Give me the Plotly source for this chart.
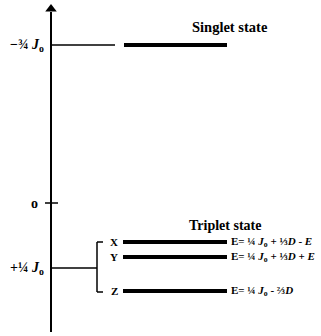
import plotly.graph_objects as go

# Energy-level diagram (schematic vertical positions, top = higher energy)
W, H = 321, 336

axis_x = 51
axis_top, axis_bottom = 12, 332

# Reference marks on the energy axis
tick_labels = ["−¾ <i>J</i><sub>o</sub>", "o", "+¼ <i>J</i><sub>o</sub>"]
tick_y = [45, 203, 268]

# Singlet level
singlet_y = 45
singlet_x = [124, 227]

# Triplet sublevels
triplet_names = ["X", "Y", "Z"]
triplet_y = [242, 257, 291]
triplet_x = [123, 227]
triplet_energy = [
    "E= ¼ <i>J</i><sub>o</sub> + ⅓<i>D</i> - <i>E</i>",
    "E= ¼ <i>J</i><sub>o</sub> + ⅓<i>D</i> + <i>E</i>",
    "E= ¼ <i>J</i><sub>o</sub> - ⅔<i>D</i>",
]

FONT = "Liberation Serif"
fig = go.Figure()

def seg(x0, y0, x1, y1, w):
    fig.add_trace(go.Scatter(x=[x0, x1], y=[y0, y1], mode="lines",
                             line=dict(color="black", width=w),
                             hoverinfo="skip", showlegend=False))

# vertical energy axis with arrow head
seg(axis_x, axis_top, axis_x, axis_bottom, 2)
fig.add_trace(go.Scatter(x=[axis_x], y=[axis_top - 3], mode="markers",
                         marker=dict(symbol="triangle-up", size=10, color="black"),
                         hoverinfo="skip", showlegend=False))

# connectors from the axis
seg(axis_x, tick_y[0], 115, tick_y[0], 1.5)
seg(45, tick_y[1], 58, tick_y[1], 1.5)
seg(axis_x, tick_y[2], 97, tick_y[2], 1.5)

# bracket grouping the triplet sublevels
seg(97, triplet_y[0], 97, triplet_y[-1] + 1, 1.5)
seg(97, triplet_y[0], 103, triplet_y[0], 1.5)
seg(97, triplet_y[-1] + 1, 103, triplet_y[-1] + 1, 1.5)

# energy levels
seg(singlet_x[0], singlet_y, singlet_x[1], singlet_y, 4)
for name, y, lab in zip(triplet_names, triplet_y, triplet_energy):
    seg(triplet_x[0], y, triplet_x[1], y, 4)
    fig.add_annotation(x=120, y=y, text=f"<b>{name}</b>", showarrow=False,
                       xanchor="right", yanchor="middle",
                       font=dict(family=FONT, size=11, color="black"))
    fig.add_annotation(x=229, y=y, text=f"<b>{lab}</b>", showarrow=False,
                       xanchor="left", yanchor="middle",
                       font=dict(family=FONT, size=11, color="black"))

# axis labels
for lab, y in zip(tick_labels, tick_y):
    fig.add_annotation(x=axis_x - 5 if lab != "o" else 40, y=y, text=f"<b>{lab}</b>",
                       showarrow=False, xanchor="right", yanchor="middle",
                       font=dict(family=FONT, size=14, color="black"))

# state titles
fig.add_annotation(x=230, y=27, text="<b>Singlet state</b>", showarrow=False,
                   xanchor="center", yanchor="middle",
                   font=dict(family=FONT, size=14.5, color="black"))
fig.add_annotation(x=225, y=225, text="<b>Triplet state</b>", showarrow=False,
                   xanchor="center", yanchor="middle",
                   font=dict(family=FONT, size=14, color="black"))

fig.update_layout(
    width=W, height=H,
    margin=dict(l=0, r=0, t=0, b=0),
    paper_bgcolor="white", plot_bgcolor="white",
    xaxis=dict(range=[0, W], visible=False, fixedrange=True),
    yaxis=dict(range=[H, 0], visible=False, fixedrange=True),
)

fig.write_html("out.html")
